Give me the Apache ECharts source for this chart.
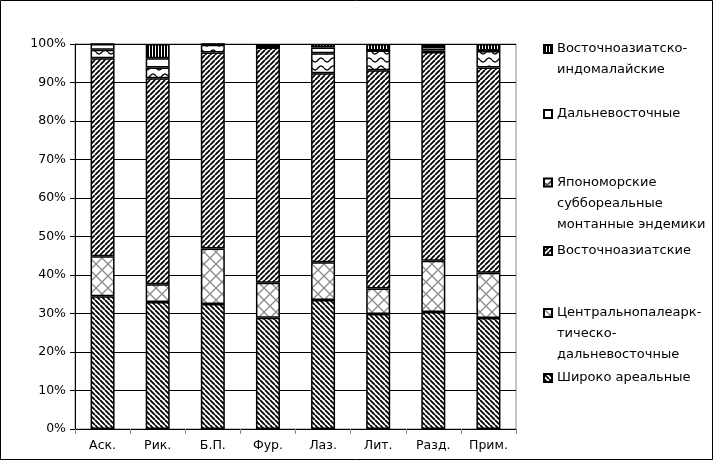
<!DOCTYPE html>
<html>
<head>
<meta charset="utf-8">
<script src="https://cdn.jsdelivr.net/npm/echarts/dist/echarts.min.js"></script>
<style>
  html, body { margin: 0; padding: 0; background: #fff; }
  #chart { width: 714px; height: 461px; }
</style>
</head>
<body>
<div id="chart"></div>
<script>
// Sites along the x axis
const categories = ['Аск.', 'Рик.', 'Б.П.', 'Фур.', 'Лаз.', 'Лит.', 'Разд.', 'Прим.'];

// Share of each chorological group, % (bottom of the stack first)
const shirokoAreal   = [34.5, 33.0, 32.5, 28.9, 33.5, 29.9, 30.4, 28.8];
const centralPalearc = [10.4,  4.6, 14.4,  9.1,  9.8,  6.6, 13.3, 11.8];
const eastAsian      = [51.4, 53.5, 50.9, 61.1, 49.1, 56.7, 54.2, 53.3];
const japanSea       = [ 2.2,  2.8,  2.0,  0.0,  5.2,  5.1,  0.4,  4.3];
const farEastern     = [ 1.5,  2.4,  0.2,  0.1,  1.5,  0.0,  0.9,  0.1];
const eastAsIndomal  = [ 0.0,  3.7,  0.0,  0.8,  0.9,  1.7,  0.8,  1.7];

// Value axis ticks
const yMin = 0, yMax = 100, yStep = 10;

const names = {
  shiroko: 'Широко ареальные',
  central: 'Центральнопалеарк-\nтическо-\nдальневосточные',
  eastAs:  'Восточноазиатские',
  japan:   'Япономорские\nсуббореальные\nмонтанные эндемики',
  far:     'Дальневосточные',
  indo:    'Восточноазиатско-\nиндомалайские'
};

// ---- fill patterns ----
function tile(w, h, draw) {
  const c = document.createElement('canvas');
  c.width = w; c.height = h;
  const ctx = c.getContext('2d');
  ctx.fillStyle = '#fff';
  ctx.fillRect(0, 0, w, h);
  draw(ctx, w, h);
  return { image: c, repeat: 'repeat' };
}
function diag(dir) {            // dir 1: "\" , -1: "/"
  return tile(5, 5, (ctx, w, h) => {
    ctx.strokeStyle = '#000';
    ctx.lineWidth = 1.8;
    ctx.beginPath();
    for (let x = -w; x <= w; x += w) {
      if (dir > 0) { ctx.moveTo(x, 0); ctx.lineTo(x + w, h); }
      else { ctx.moveTo(x, h); ctx.lineTo(x + w, 0); }
    }
    ctx.stroke();
  });
}
const patShiroko = diag(1);
const patEastAs = diag(-1);
const patCentral = tile(12, 12, (ctx, w, h) => {
  ctx.strokeStyle = '#8a8a8a';
  ctx.lineWidth = 1.3;
  ctx.beginPath();
  ctx.moveTo(0, 0); ctx.lineTo(w, h);
  ctx.moveTo(w, 0); ctx.lineTo(0, h);
  ctx.stroke();
});
const patJapan = tile(12, 8, (ctx, w, h) => {
  ctx.strokeStyle = '#000';
  ctx.lineWidth = 1.3;
  ctx.beginPath();
  for (let x = 0; x <= w; x += 0.5) {
    const y = 4 + 2 * Math.sin(2 * Math.PI * x / w);
    if (x === 0) ctx.moveTo(x, y); else ctx.lineTo(x, y);
  }
  ctx.stroke();
});
const patFar = '#ffffff';
const patIndo = tile(3, 3, (ctx) => {
  ctx.fillStyle = '#000';
  ctx.fillRect(0, 0, 2, 3);
});

const FONT = 'DejaVu Sans';

function barSeries(name, data, fill) {
  return {
    name, type: 'bar', stack: 'total', data,
    barWidth: 24,
    itemStyle: { color: fill, borderColor: '#000', borderWidth: 1.5 },
    emphasis: { disabled: true }
  };
}

// One legend block per entry; the icon box is stretched downwards with an
// empty sub-path so the square sits beside the first text line.
const LH = 21, ICON = 8;
const legendEntries = [
  { name: names.indo,    lines: 2, y: 49 },
  { name: names.far,     lines: 1, y: 114 },
  { name: names.japan,   lines: 3, y: 182.5 },
  { name: names.eastAs,  lines: 1, y: 251 },
  { name: names.central, lines: 3, y: 313 },
  { name: names.shiroko, lines: 1, y: 378 }
];
const legends = legendEntries.map(e => {
  const h = ICON + (e.lines - 1) * LH;
  return {
    data: [e.name],
    orient: 'vertical',
    left: 543,
    top: e.y - LH / 2,
    padding: 0,
    icon: 'path://M0,0h' + ICON + 'v' + ICON + 'h-' + ICON + 'z M0,' + h,
    itemWidth: ICON,
    itemHeight: h,
    selectedMode: false,
    textStyle: { fontFamily: FONT, fontSize: 13, color: '#000', lineHeight: LH }
  };
});

const chart = echarts.init(document.getElementById('chart'), null, { renderer: 'canvas' });
chart.setOption({
  animation: false,
  backgroundColor: '#fff',
  grid: { left: 75, right: 198, top: 44, bottom: 32, show: true, borderColor: '#888', borderWidth: 1, backgroundColor: '#fff' },
  legend: legends,
  xAxis: {
    type: 'category',
    data: categories,
    axisLine: { lineStyle: { color: '#000', width: 1 } },
    axisTick: { show: true, length: 5, lineStyle: { color: '#888' } },
    axisLabel: { color: '#000', fontFamily: FONT, fontSize: 12.5, margin: 10 },
    splitLine: { show: false }
  },
  yAxis: {
    type: 'value',
    min: yMin, max: yMax, interval: yStep,
    axisLine: { show: true, lineStyle: { color: '#000', width: 1 } },
    axisTick: { show: true, length: 5, lineStyle: { color: '#000' } },
    axisLabel: { color: '#000', fontFamily: FONT, fontSize: 12.5, margin: 9, formatter: '{value}%' },
    splitLine: { show: true, lineStyle: { color: '#000', width: 1 } }
  },
  series: [
    barSeries(names.shiroko, shirokoAreal, patShiroko),
    barSeries(names.central, centralPalearc, patCentral),
    barSeries(names.eastAs, eastAsian, patEastAs),
    barSeries(names.japan, japanSea, patJapan),
    barSeries(names.far, farEastern, patFar),
    barSeries(names.indo, eastAsIndomal, patIndo)
  ],
  graphic: [{
    type: 'rect', silent: true, z: -1,
    shape: { x: 0.5, y: 0.5, width: 712, height: 459 },
    style: { fill: 'none', stroke: '#000', lineWidth: 1 }
  }]
});
</script>
</body>
</html>
